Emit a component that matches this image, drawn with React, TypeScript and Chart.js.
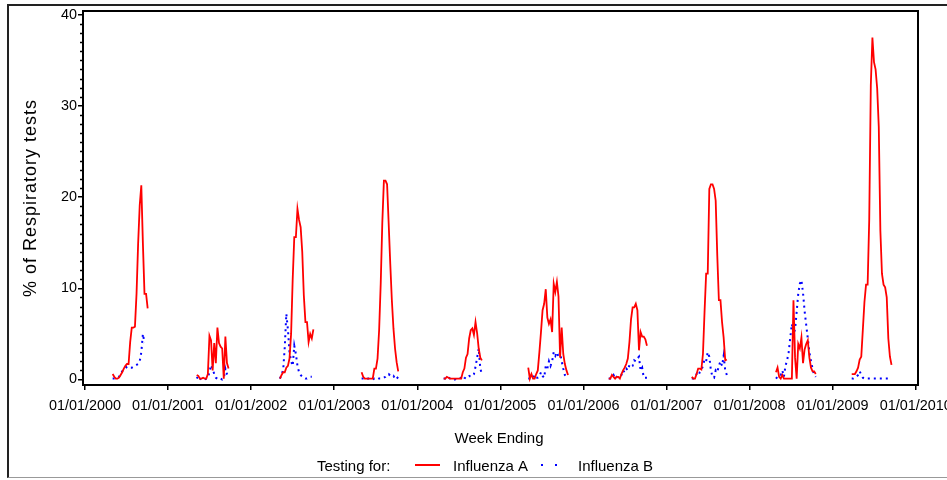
import React, { useEffect, useRef } from "react";
import { Chart, registerables } from "chart.js";

Chart.register(...registerables);

// ---- Data (weekly % positive, by season; season start as fractional year) ----
const seasonStarts = [2000.333, 2001.345, 2002.347, 2003.33, 2004.318, 2005.336, 2006.305, 2007.305, 2008.318, 2009.23];

const fluA2000 = [0.6, 0.3, 0.1, 0.1, 0.2, 0.5, 0.8, 1.2, 1.5, 1.7, 1.7, 4.1, 5.7, 5.7, 5.8, 9.4, 14.9, 19.1, 21.3, 14.9, 9.4, 9.4, 7.8];
const fluA2001 = [0.5, 0.4, 0.1, 0.1, 0.2, 0.1, 0.1, 0.6, 4.8, 4.3, 1.0, 4.0, 1.8, 5.7, 4.0, 3.6, 3.4, 0.1, 4.7, 1.8, 1.2];
const fluA2002 = [0.1, 0.5, 0.8, 0.8, 1.3, 1.5, 2.3, 5.0, 11.0, 15.6, 15.6, 18.7, 17.5, 16.7, 14.0, 9.2, 6.3, 6.3, 4.1, 5.0, 4.5, 5.5];
const fluA2003 = [0.8, 0.3, 0.1, 0.1, 0.1, 0.1, 0.1, 0.1, 1.2, 1.2, 2.3, 5.4, 10.5, 17.2, 21.8, 21.8, 21.4, 17.1, 12.7, 8.7, 5.6, 3.4, 1.9, 0.9];
const fluA2004 = [0.1, 0.1, 0.3, 0.2, 0.1, 0.1, 0.1, 0.1, 0.1, 0.1, 0.1, 0.1, 0.8, 1.2, 2.4, 2.8, 4.5, 5.4, 5.6, 4.9, 6.3, 5.1, 3.4, 2.4, 2.1];
const fluA2005 = [1.3, 0.1, 0.6, 0.1, 0.1, 0.6, 1.0, 3.0, 5.2, 7.6, 8.3, 9.9, 6.8, 6.1, 6.6, 5.2, 10.5, 9.6, 10.7, 9.1, 2.4, 5.7, 2.8, 1.7, 1.0, 0.5];
const fluA2006 = [0.1, 0.1, 0.5, 0.3, 0.1, 0.3, 0.3, 0.1, 0.6, 1.0, 1.3, 1.7, 2.3, 4.1, 6.6, 7.9, 7.9, 8.3, 7.6, 3.2, 5.2, 4.7, 4.7, 4.4, 3.7];
const fluA2007 = [0.3, 0.1, 0.1, 0.6, 1.2, 1.2, 1.1, 2.8, 7.4, 11.6, 11.6, 20.9, 21.4, 21.4, 20.9, 19.6, 13.6, 8.7, 8.7, 6.3, 4.6, 2.1, 2.2];
const fluA2008 = [0.8, 1.3, 0.3, 0.1, 0.5, 0.1, 0.1, 0.1, 0.1, 0.1, 0.1, 8.7, 2.4, 0.1, 3.9, 3.4, 4.6, 1.8, 3.3, 3.9, 4.3, 2.4, 1.3, 0.9, 0.9, 0.6];
const fluA2009 = [0.6, 0.6, 0.6, 0.9, 1.3, 2.2, 2.5, 5.5, 8.5, 10.4, 10.4, 17.5, 32.3, 37.5, 34.8, 34.0, 31.9, 27.7, 16.3, 11.6, 10.4, 10.1, 9.0, 4.5, 2.5, 1.6];

const fluB2000 = [0.1, 0.1, 0.1, 0.2, 0.3, 0.6, 0.9, 1.0, 1.2, 1.4, 1.4, 1.3, 1.3, 1.4, 1.5, 1.6, 1.7, 2.0, 3.0, 5.0, 4.0];
const fluB2001 = [0.1, 0.4, 0.1, 0.0, 0.1, 0.0, 0.1, 0.2, 0.8, 1.6, 1.2, 0.6, 0.2, 0.1, 0.2, 0.1, 0.0, 0.1, 1.2, 0.6, 0.3];
const fluB2002 = [0.1, 0.6, 1.0, 3.5, 7.2, 5.5, 3.0, 2.0, 1.5, 3.7, 2.8, 1.5, 0.8, 0.5, 0.3, 0.2, 0.1, 0.1, 0.2, 0.3, 0.3];
const fluB2003 = [0.1, 0.1, 0.1, 0.0, 0.1, 0.1, 0.1, 0.0, 0.1, 0.1, 0.2, 0.1, 0.1, 0.1, 0.2, 0.3, 0.5, 0.6, 0.4, 0.3, 0.4, 0.1, 0.3, 0.1];
const fluB2004 = [0.1, 0.1, 0.2, 0.3, 0.1, 0.1, 0.1, 0.0, 0.1, 0.1, 0.1, 0.2, 0.4, 0.2, 0.1, 0.3, 0.4, 0.3, 0.4, 0.6, 1.4, 2.4, 3.4, 1.2, 0.6];
const fluB2005 = [0.1, 0.1, 0.1, 0.1, 0.5, 0.2, 0.2, 0.3, 0.8, 0.4, 0.2, 1.5, 1.2, 2.0, 1.5, 2.0, 3.0, 2.6, 3.0, 2.5, 3.0, 2.0, 1.2, 0.5, 0.3, 0.2];
const fluB2006 = [0.1, 0.1, 0.3, 0.5, 0.1, 0.3, 0.2, 0.3, 0.5, 1.0, 0.8, 1.2, 1.0, 1.6, 1.4, 1.5, 2.1, 2.0, 2.3, 2.5, 1.0, 1.3, 0.2, 0.2, 0.2];
const fluB2007 = [0.1, 0.1, 0.3, 0.6, 0.4, 0.8, 1.0, 1.5, 2.2, 2.0, 3.0, 2.5, 1.0, 0.3, 0.2, 1.0, 0.8, 1.5, 2.0, 1.5, 2.6, 1.0, 0.5];
const fluB2008 = [0.1, 0.3, 0.5, 0.5, 1.0, 0.3, 1.5, 2.1, 3.0, 4.6, 6.1, 5.0, 5.5, 7.4, 9.4, 10.5, 10.9, 9.5, 7.5, 6.0, 4.5, 3.0, 2.0, 1.2, 0.5, 0.3];
const fluB2009 = [0.1, 0.1, 0.2, 0.3, 0.5, 0.9, 0.5, 0.2, 0.1, 0.1, 0.1, 0.1, 0.1, 0.1, 0.1, 0.1, 0.1, 0.1, 0.1, 0.1, 0.1, 0.1, 0.1, 0.1, 0.1, 0.1];

const fluASeasons = [fluA2000, fluA2001, fluA2002, fluA2003, fluA2004, fluA2005, fluA2006, fluA2007, fluA2008, fluA2009];
const fluBSeasons = [fluB2000, fluB2001, fluB2002, fluB2003, fluB2004, fluB2005, fluB2006, fluB2007, fluB2008, fluB2009];

const xTickYears = [2000, 2001, 2002, 2003, 2004, 2005, 2006, 2007, 2008, 2009, 2010];
const xTickLabels = ["01/01/2000", "01/01/2001", "01/01/2002", "01/01/2003", "01/01/2004", "01/01/2005", "01/01/2006", "01/01/2007", "01/01/2008", "01/01/2009", "01/01/2010"];
const yTicks = [0, 10, 20, 30, 40];
const yMinorTicks = Array.from({ length: 41 }, (_, i) => i).filter((v) => v % 10 !== 0);

const WEEK = 7 / 365.25;
const FONT = '"Liberation Sans", Arial, sans-serif';

function buildSeries(seasons: number[][]) {
  const pts: { x: number; y: number | null }[] = [];
  seasons.forEach((vals, s) => {
    if (s > 0) pts.push({ x: seasonStarts[s] - 0.05, y: null });
    vals.forEach((v, i) => pts.push({ x: seasonStarts[s] + i * WEEK, y: v }));
  });
  return pts;
}

const decorPlugin = {
  id: "decor",
  afterDraw(chart: any) {
    const { ctx, chartArea, scales } = chart;
    const y = scales.y;
    ctx.save();
    // plot frame
    ctx.strokeStyle = "#000";
    ctx.lineWidth = 2;
    ctx.strokeRect(chartArea.left, chartArea.top, chartArea.right - chartArea.left, chartArea.bottom - chartArea.top);
    // minor y ticks
    ctx.lineWidth = 1.5;
    ctx.beginPath();
    yMinorTicks.forEach((v) => {
      const py = Math.round(y.getPixelForValue(v)) + 0.5;
      ctx.moveTo(chartArea.left - 3, py);
      ctx.lineTo(chartArea.left, py);
    });
    ctx.stroke();

    ctx.fillStyle = "#000";
    // y axis title
    ctx.save();
    ctx.translate(31, (chartArea.top + chartArea.bottom) / 2);
    ctx.rotate(-Math.PI / 2);
    ctx.font = `18px ${FONT}`;
    (ctx as any).letterSpacing = "1px";
    ctx.textAlign = "center";
    ctx.textBaseline = "middle";
    ctx.fillText("% of Respiratory tests", 0, 0);
    ctx.restore();

    // x axis title
    ctx.font = `15px ${FONT}`;
    ctx.textAlign = "center";
    ctx.textBaseline = "alphabetic";
    ctx.fillText("Week Ending", 499, 443);

    // legend
    ctx.textAlign = "left";
    ctx.fillText("Testing for:", 317, 471);
    ctx.strokeStyle = "#ff0000";
    ctx.lineWidth = 2;
    ctx.beginPath();
    ctx.moveTo(415, 465);
    ctx.lineTo(440, 465);
    ctx.stroke();
    ctx.fillText("Influenza A", 453, 471);
    ctx.strokeStyle = "#0000ff";
    ctx.setLineDash([2, 12]);
    ctx.beginPath();
    ctx.moveTo(541, 465);
    ctx.lineTo(559, 465);
    ctx.stroke();
    ctx.setLineDash([]);
    ctx.fillText("Influenza B", 578, 471);
    ctx.restore();
  },
};

export default function App() {
  const canvasRef = useRef<HTMLCanvasElement | null>(null);

  useEffect(() => {
    const canvas = canvasRef.current;
    if (!canvas) return;
    const chart = new Chart(canvas, {
      type: "line",
      data: {
        datasets: [
          {
            label: "Influenza A",
            data: buildSeries(fluASeasons) as any,
            borderColor: "#ff0000",
            borderWidth: 1.8,
            pointRadius: 0,
            tension: 0,
            spanGaps: false,
          },
          {
            label: "Influenza B",
            data: buildSeries(fluBSeasons) as any,
            borderColor: "#0000ff",
            borderWidth: 2,
            borderDash: [2, 4],
            pointRadius: 0,
            tension: 0,
            spanGaps: false,
          },
        ],
      },
      options: {
        animation: false,
        responsive: false,
        devicePixelRatio: 1,
        layout: { padding: { left: 0, top: 11, right: 29, bottom: 0 } },
        plugins: { legend: { display: false }, tooltip: { enabled: false } },
        scales: {
          x: {
            type: "linear",
            min: 1999.976,
            max: 2010.028,
            afterBuildTicks: (s: any) => {
              s.ticks = xTickYears.map((v) => ({ value: v }));
            },
            afterFit: (s: any) => {
              s.height = 95;
              s.paddingLeft = 0;
              s.paddingRight = 0;
            },
            ticks: {
              autoSkip: false,
              maxRotation: 0,
              minRotation: 0,
              padding: 7,
              color: "#000",
              font: { family: FONT, size: 14.4 },
              callback: (_v: any, i: number) => xTickLabels[i],
            },
            grid: { display: true, drawOnChartArea: false, drawTicks: true, tickLength: 5, color: "#000", lineWidth: 1.5 },
            border: { display: true, color: "#000", width: 2 },
          },
          y: {
            type: "linear",
            min: -0.6,
            max: 40.4,
            afterBuildTicks: (s: any) => {
              s.ticks = yTicks.map((v) => ({ value: v }));
            },
            afterFit: (s: any) => {
              s.width = 83;
              s.paddingTop = 0;
              s.paddingBottom = 0;
            },
            ticks: {
              padding: 1,
              color: "#000",
              font: { family: FONT, size: 14.4 },
              callback: (v: any) => String(v),
            },
            grid: { display: true, drawOnChartArea: false, drawTicks: true, tickLength: 5, color: "#000", lineWidth: 1.5 },
            border: { display: true, color: "#000", width: 2 },
          },
        },
      },
      plugins: [decorPlugin],
    });
    return () => chart.destroy();
  }, []);

  return (
    <div style={{ position: "absolute", left: 0, top: 0, width: 947, height: 480, background: "#fff", overflow: "hidden" }}>
      <div
        style={{
          position: "absolute",
          left: 7,
          top: 4,
          width: 960,
          height: 471,
          borderLeft: "2px solid #222",
          borderTop: "2px solid #222",
          borderBottom: "1px solid #999",
        }}
      />
      <canvas ref={canvasRef} width={947} height={480} style={{ position: "absolute", left: 0, top: 0, width: 947, height: 480 }} />
    </div>
  );
}
